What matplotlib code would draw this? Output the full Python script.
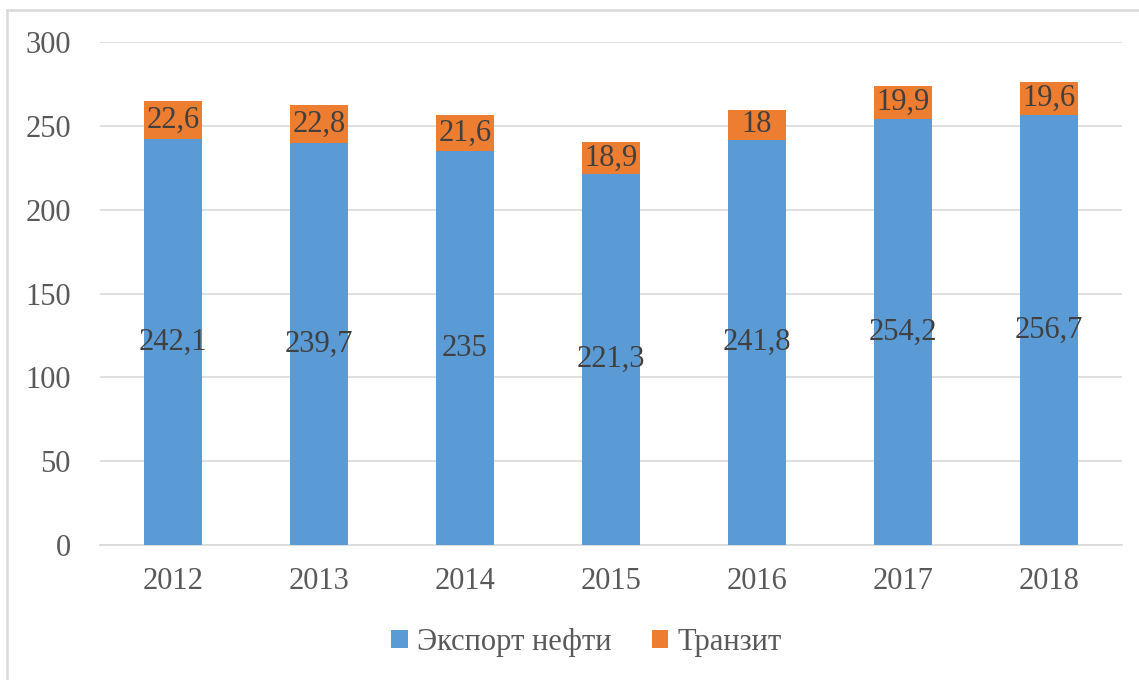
import matplotlib
matplotlib.use("Agg")
import matplotlib.pyplot as plt
from matplotlib.lines import Line2D

years = ["2012", "2013", "2014", "2015", "2016", "2017", "2018"]
export = [242.1, 239.7, 235, 221.3, 241.8, 254.2, 256.7]
transit = [22.6, 22.8, 21.6, 18.9, 18, 19.9, 19.6]
export_labels = ["242,1", "239,7", "235", "221,3", "241,8", "254,2", "256,7"]
transit_labels = ["22,6", "22,8", "21,6", "18,9", "18", "19,9", "19,6"]
yticks = [0, 50, 100, 150, 200, 250, 300]

plt.rcParams['font.family'] = ['Liberation Serif', 'DejaVu Serif']
blue = "#5B9BD5"
orange = "#ED7D31"
txt = "#595959"
lab = "#404040"
FS = 22

fig = plt.figure(figsize=(11.39, 6.8), dpi=100)
ax = fig.add_axes([0.0878, 0.1985, 0.985 - 0.0878, 0.938 - 0.1985])

x = range(len(years))
b1 = ax.bar(x, export, width=0.4, color=blue, label="Экспорт нефти", zorder=3)
b2 = ax.bar(x, transit, width=0.4, bottom=export, color=orange, label="Транзит", zorder=3)

for i in x:
    ax.text(i, export[i] / 2, export_labels[i], ha="center", va="center",
            fontsize=FS, color=lab, zorder=4)
    ax.text(i, export[i] + transit[i] / 2, transit_labels[i], ha="center", va="center",
            fontsize=FS, color=lab, zorder=4)

ax.set_xlim(-0.5, len(years) - 0.5)
ax.set_ylim(0, 300)
ax.set_yticks(yticks)
ax.set_xticks(list(x))
ax.set_xticklabels(years)
ax.yaxis.grid(True, color="#d9d9d9", linewidth=1.2, zorder=0)
for s in ["top", "right", "left"]:
    ax.spines[s].set_visible(False)
ax.spines["bottom"].set_color("#d9d9d9")
ax.spines["bottom"].set_linewidth(1.2)
ax.tick_params(axis="both", length=0, labelsize=FS, colors=txt)
ax.tick_params(axis="x", pad=16)
ax.tick_params(axis="y", pad=21)

leg = fig.legend(handles=[b1, b2], loc="center", bbox_to_anchor=(0.515, 0.055),
                 ncol=2, frameon=False, fontsize=FS, handlelength=0.55,
                 handleheight=0.55, handletextpad=0.3, columnspacing=1.3)
for t in leg.get_texts():
    t.set_color(txt)

W, H = 1139, 680
fig.lines.append(Line2D([7 / W, 7 / W], [0, 1 - 10 / H], transform=fig.transFigure,
                        color="#d9d9d9", linewidth=1.8))
fig.lines.append(Line2D([7 / W, 1], [1 - 10 / H, 1 - 10 / H], transform=fig.transFigure,
                        color="#d9d9d9", linewidth=1.8))

fig.savefig("out.png", dpi=100)
